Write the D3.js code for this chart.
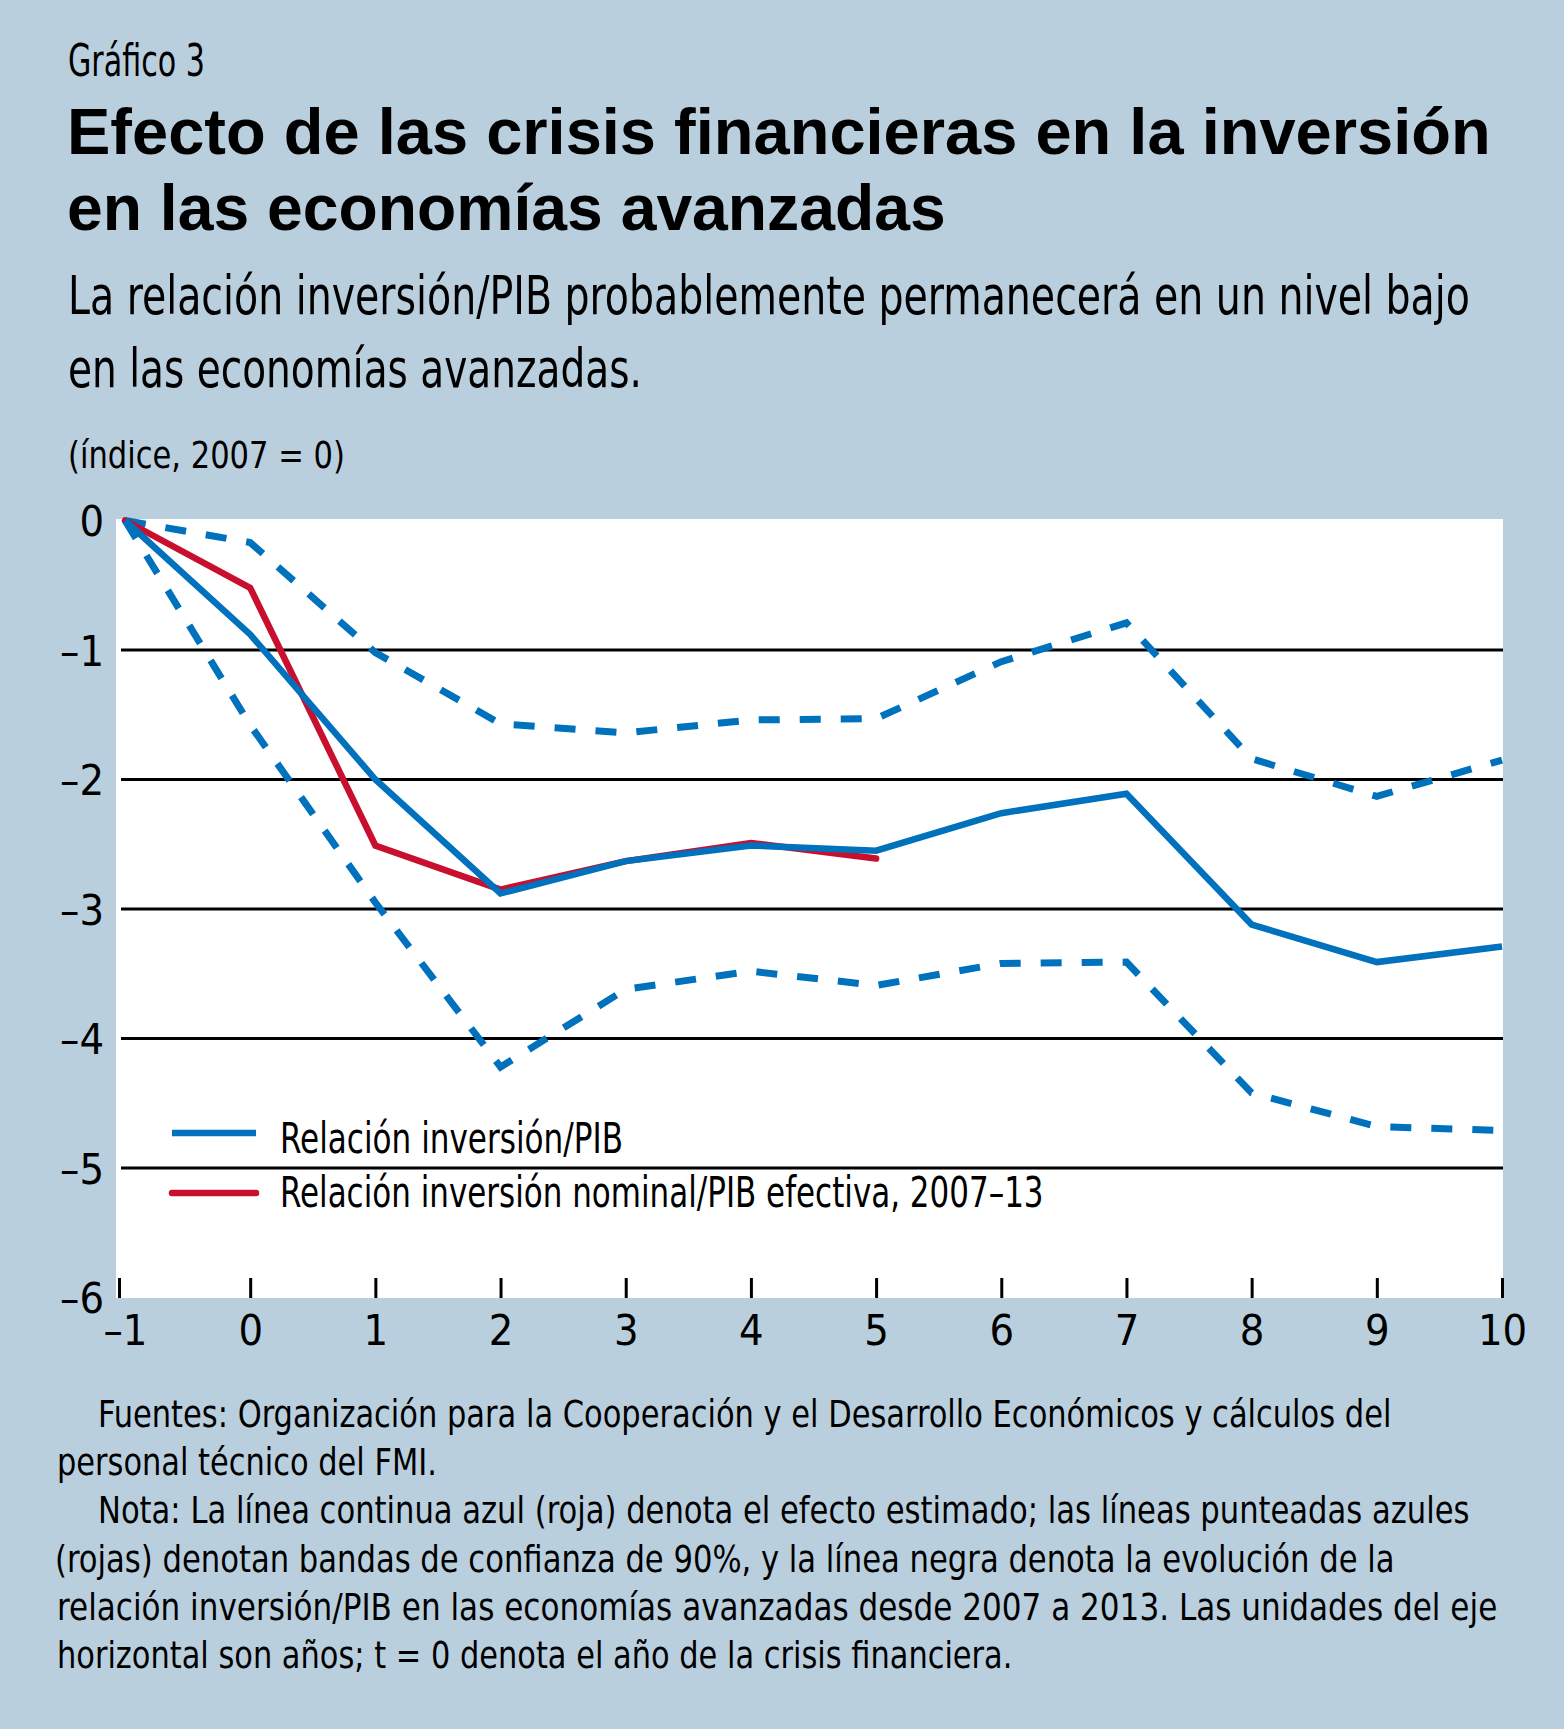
<!DOCTYPE html>
<html>
<head>
<meta charset="utf-8">
<script src="https://cdn.jsdelivr.net/npm/d3@7"></script>
<style>
  html, body { margin: 0; padding: 0; background: #bacfde; }
  svg { display: block; }
  .cond { font-family: "Liberation Sans Narrow", "Arial Narrow", "DejaVu Sans Condensed", "Liberation Sans", sans-serif; font-stretch: condensed; }
</style>
</head>
<body>
<script>
// ---------- data ----------
const years = [-1, 0, 1, 2, 3, 4, 5, 6, 7, 8, 9, 10];
const estimate = [0, -0.88, -2.00, -2.88, -2.63, -2.51, -2.55, -2.26, -2.11, -3.12, -3.41, -3.29];
const upperBand = [0, -0.17, -1.02, -1.57, -1.64, -1.54, -1.53, -1.09, -0.79, -1.84, -2.13, -1.85];
const lowerBand = [0, -1.58, -2.95, -4.22, -3.62, -3.48, -3.59, -3.42, -3.41, -4.42, -4.68, -4.71];
const actualYears = [-1, 0, 1, 2, 3, 4, 5];
const actual = [0, -0.52, -2.51, -2.85, -2.63, -2.49, -2.61];
const yTicks = [0, -1, -2, -3, -4, -5, -6];
const xTicks = years;
const legendLabels = ["Relación inversión/PIB", "Relación inversión nominal/PIB efectiva, 2007–13"];

const chartLabel = "Gráfico 3";
const titleLines = ["Efecto de las crisis financieras en la inversión", "en las economías avanzadas"];
const subtitleLines = ["La relación inversión/PIB probablemente permanecerá en un nivel bajo", "en las economías avanzadas."];
const unitLabel = "(índice, 2007 = 0)";
const noteLines = [
  "Fuentes: Organización para la Cooperación y el Desarrollo Económicos y cálculos del",
  "personal técnico del FMI.",
  "Nota: La línea continua azul (roja) denota el efecto estimado; las líneas punteadas azules",
  "(rojas) denotan bandas de confianza de 90%, y la línea negra denota la evolución de la",
  "relación inversión/PIB en las economías avanzadas desde 2007 a 2013. Las unidades del eje",
  "horizontal son años; t = 0 denota el año de la crisis financiera."
];

// ---------- layout ----------
const W = 1564, H = 1729;
const BG = "#bacfde", BLUE = "#0071bc", RED = "#c8102e";
const plot = { left: 116, right: 1503, top: 519, bottom: 1298 };

const svg = d3.select("body").append("svg").attr("width", W).attr("height", H);
svg.append("rect").attr("width", W).attr("height", H).attr("fill", BG);

// text placed at (x, baseline y), horizontally scaled to a target width
function txt(s, x, y, size, width, opts = {}) {
  const g = svg.append("g").attr("transform", `translate(${x},${y})`);
  const t = g.append("text")
    .attr("x", 0).attr("y", 0)
    .attr("font-size", size)
    .attr("fill", "#000")
    .text(s);
  if (opts.bold) {
    t.attr("font-family", "'Liberation Sans', Arial, sans-serif").attr("font-weight", "bold");
  } else {
    t.attr("class", "cond");
  }
  if (width) {
    const w = t.node().getComputedTextLength();
    if (w > 0) t.attr("transform", `scale(${width / w},1)`);
  }
  return t;
}

// header
txt(chartLabel, 68, 76, 44, 137);
txt(titleLines[0], 67, 154, 65, 1424, { bold: true });
txt(titleLines[1], 67, 230, 65, 879, { bold: true });
txt(subtitleLines[0], 68, 314, 54, 1402);
txt(subtitleLines[1], 68, 387, 54, 574);
txt(unitLabel, 68, 468, 38, 277);

// plot background
svg.append("rect")
  .attr("x", plot.left).attr("y", plot.top)
  .attr("width", plot.right - plot.left).attr("height", plot.bottom - plot.top)
  .attr("fill", "#fff");

// scales
const x = d3.scaleLinear().domain([-1, 10]).range([125, 1502]);
const y = d3.scaleLinear().domain([-6, 0]).range([1297.5, 520.5]);

// gridlines
svg.append("g").selectAll("line")
  .data(yTicks.filter(v => v !== 0 && v !== -6))
  .join("line")
  .attr("x1", 121).attr("x2", plot.right)
  .attr("y1", d => y(d)).attr("y2", d => y(d))
  .attr("stroke", "#000").attr("stroke-width", 3);

// x axis (ticks pointing up into the plot)
const fmt = d => d < 0 ? "–" + Math.abs(d) : String(d);
const xAxis = svg.append("g")
  .attr("transform", `translate(0,${plot.bottom})`)
  .call(d3.axisBottom(x).tickValues(xTicks).tickSize(-20).tickPadding(16).tickFormat(fmt));
xAxis.select(".domain").remove();
xAxis.selectAll(".tick line").attr("stroke", "#000").attr("stroke-width", 3);
xAxis.selectAll(".tick").filter(d => d === -1).select("line").attr("transform", "translate(-6,0)");
xAxis.selectAll(".tick text")
  .attr("class", "cond").attr("font-size", 43).attr("fill", "#000");
xAxis.attr("font-family", null);

// y axis labels
const yAxis = svg.append("g")
  .attr("transform", `translate(${plot.left},0)`)
  .call(d3.axisLeft(y).tickValues(yTicks).tickSize(0).tickPadding(12).tickFormat(fmt));
yAxis.select(".domain").remove();
yAxis.selectAll(".tick text")
  .attr("class", "cond").attr("font-size", 43).attr("fill", "#000").attr("dy", "0.36em");
yAxis.attr("font-family", null);

// lines
const line = d3.line().x(d => x(d[0])).y(d => y(d[1]));
const zip = (a, b) => a.map((v, i) => [v, b[i]]);

svg.append("path").datum(zip(years, upperBand)).attr("d", line)
  .attr("fill", "none").attr("stroke", BLUE).attr("stroke-width", 7)
  .attr("stroke-dasharray", "21,20").attr("stroke-linejoin", "miter");
svg.append("path").datum(zip(years, lowerBand)).attr("d", line)
  .attr("fill", "none").attr("stroke", BLUE).attr("stroke-width", 7)
  .attr("stroke-dasharray", "21,20").attr("stroke-linejoin", "miter");
svg.append("path").datum(zip(actualYears, actual)).attr("d", line)
  .attr("fill", "none").attr("stroke", RED).attr("stroke-width", 6.5)
  .attr("stroke-linecap", "round").attr("stroke-linejoin", "miter");
svg.append("path").datum(zip(years, estimate)).attr("d", line)
  .attr("fill", "none").attr("stroke", BLUE).attr("stroke-width", 6.5)
  .attr("stroke-linejoin", "miter");

// legend
const legendColors = [BLUE, RED];
const legendY = [1133, 1193];
const legendTextY = [1153, 1207];
const legendWidths = [343, 764];
legendLabels.forEach((lab, i) => {
  svg.append("line")
    .attr("x1", 172).attr("x2", 256)
    .attr("y1", legendY[i]).attr("y2", legendY[i])
    .attr("stroke", legendColors[i]).attr("stroke-width", 6.5)
    .attr("stroke-linecap", i === 1 ? "round" : "butt");
  txt(lab, 280, legendTextY[i], 43, legendWidths[i]);
});

// notes
const noteX = [98, 57, 98, 55, 57, 57];
const noteY = [1427, 1475, 1523, 1572, 1620, 1668];
const noteW = [1294, 380, 1372, 1340, 1441, 956];
noteLines.forEach((s, i) => txt(s, noteX[i], noteY[i], 37, noteW[i]));
</script>
</body>
</html>
